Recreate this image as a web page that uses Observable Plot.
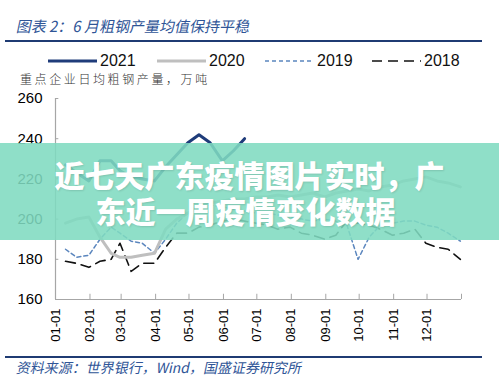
<!DOCTYPE html>
<html>
<head>
<meta charset="utf-8">
<script src="https://cdn.jsdelivr.net/npm/d3@7"></script>
<script src="https://cdn.jsdelivr.net/npm/@observablehq/plot@0.6"></script>
<style>
  html, body { margin: 0; padding: 0; background: #fff; }
  #wrap { position: relative; width: 499px; height: 384px; overflow: hidden; font-family: "Liberation Sans", Arial, sans-serif; }
  #chart { position: absolute; left: 0; top: 0; }
  .abs { position: absolute; }
  #title { left: 15px; top: 17px; font-family: "Noto Sans CJK SC", sans-serif; font-size: 15px; line-height: 18px; color: #2F5597; transform: skewX(-12deg); transform-origin: left bottom; white-space: nowrap; }
  .rule { left: 5px; width: 477px; height: 2px; background: #1F3B73; }
  #ylabel { left: 20px; top: 72px; font-family: "Noto Sans CJK SC", sans-serif; font-weight: 300; font-size: 12px; line-height: 13px; letter-spacing: 2.6px; color: #333; white-space: nowrap; }
  #source { left: 15px; top: 359px; font-family: "Noto Sans CJK SC", sans-serif; font-size: 14px; line-height: 17px; color: #2F5597; transform: skewX(-12deg); transform-origin: left bottom; white-space: nowrap; }
  #banner { left: 0; top: 143px; width: 499px; height: 97px; background: rgba(128, 219, 192, 0.88); }
  #banner div { font-family: "Noto Sans CJK SC", sans-serif; font-weight: 900; font-size: 30px; line-height: 36px; color: #fff; text-align: center; text-shadow: 1px 1px 2px rgba(0,0,0,0.12); white-space: nowrap; }
  #legend { left: 0; top: 50px; }
</style>
</head>
<body>
<div id="wrap">
  <div id="chart"></div>
  <div id="title" class="abs">图表 2：6 月粗钢产量均值保持平稳</div>
  <div class="abs rule" style="top:40px"></div>
  <svg id="legend" class="abs" width="499" height="20"></svg>
  <div id="ylabel" class="abs">重点企业日均粗钢产量，万吨</div>
  <div class="abs rule" style="top:356px"></div>
  <div id="source" class="abs">资料来源：世界银行，Wind，国盛证券研究所</div>
  <div id="banner" class="abs">
    <div style="padding-top:13px">近七天广东疫情图片实时，广</div>
    <div style="padding-right:8px">东近一周疫情变化数据</div>
  </div>
</div>
<script>
// ---- data ----
const dekads = ["01-10","01-20","01-31","02-10","02-20","02-28","03-10","03-20","03-31",
  "04-10","04-20","04-30","05-10","05-20","05-31","06-10","06-20","06-30",
  "07-10","07-20","07-31","08-10","08-20","08-31","09-10","09-20","09-30",
  "10-10","10-20","10-31","11-10","11-20","11-30","12-10","12-20","12-31"];
const v2021 = [227,223,219,229,229,224,221,220,219,226,232,238,242,238,229,234,240];
const v2020 = [198,200,201,191,183,181,181,182,183,195,200,203,206,208,209,210,210,211,
  211,212,211,212,213,211,213,214,215,214,216,217,219,220,221,219,218,216];
const v2019 = [185,181,182,190,196,193,189,188,183,190,198,203,206,207,206,205,204,203,
  203,202,201,200,199,200,199,197,180,191,197,198,199,199,197,196,193,189];
const v2018 = [179,178,176,179,180,188,174,178,178,186,193,193,196,197,199,200,199,198,
  197,195,196,193,192,190,192,199,198,197,195,192,193,195,188,186,185,180];
const seriesNames = ["2021","2020","2019","2018"];
const monthLabels = ["01-01","02-01","03-01","04-01","05-01","06-01","07-01","08-01","09-01","10-01","11-01","12-01"];
const yTicks = [160,180,200,220,240,260];

// ---- styles ----
const styles = {
  "2021": {stroke: "#1F3C7A", width: 3, dash: null},
  "2020": {stroke: "#BFBFBF", width: 3, dash: null},
  "2019": {stroke: "#5B86BE", width: 1.5, dash: "4,3"},
  "2018": {stroke: "#111111", width: 1.6, dash: "10,6"}
};

const parse = s => new Date(Date.UTC(2021, +s.slice(0,2) - 1, +s.slice(3,5)));
const valuesBy = {"2021": v2021, "2020": v2020, "2019": v2019, "2018": v2018};
const rows = [];
for (const name of seriesNames) {
  valuesBy[name].forEach((v, i) => rows.push({series: name, date: parse(dekads[i]), value: v}));
}
const monthTicks = monthLabels.map(parse);
const allTicks = [...monthTicks, new Date(Date.UTC(2022,0,1))];
const x0 = new Date(Date.UTC(2021,0,1));
const x0b = new Date(Date.UTC(2021,0,4));

const lineMarks = seriesNames.slice().reverse().map(name =>
  Plot.line(rows.filter(d => d.series === name), {
    x: "date", y: "value",
    stroke: styles[name].stroke, strokeWidth: styles[name].width,
    strokeDasharray: styles[name].dash, curve: "linear"
  })
);

const chart = Plot.plot({
  width: 499, height: 384,
  marginTop: 98, marginBottom: 85, marginLeft: 55, marginRight: 38,
  style: {fontFamily: "'Liberation Sans', Arial, sans-serif", background: "transparent", color: "#000"},
  x: {type: "utc", domain: [x0, new Date(Date.UTC(2022,0,1))]},
  y: {domain: [160, 260]},
  marks: [
    Plot.ruleY([160], {stroke: "#A6A6A6", strokeWidth: 1.2}),
    Plot.ruleX([x0], {y1: 160, y2: 260, stroke: "#A6A6A6", strokeWidth: 1.2}),
    Plot.ruleX(allTicks, {x: d => d, y1: 160, y2: 162.6, stroke: "#A6A6A6"}),
    Plot.ruleY(yTicks, {y: d => d, x1: x0, x2: x0b, stroke: "#A6A6A6"}),
    Plot.axisY({ticks: yTicks, tickSize: 0, tickPadding: 13, label: null, fontSize: 15}),
    Plot.axisX({ticks: monthTicks, tickFormat: d3.utcFormat("%m-%d"), tickSize: 0, tickPadding: 9, tickRotate: -90, label: null, fontSize: 13}),
    ...lineMarks
  ]
});
document.getElementById("chart").appendChild(chart);

// ---- legend ----
const leg = d3.select("#legend");
const legPos = {"2021": 48, "2020": 157, "2019": 265, "2018": 372};
for (const name of seriesNames) {
  const s = styles[name];
  const x = legPos[name];
  leg.append("line").attr("x1", x).attr("x2", x + 49).attr("y1", 11).attr("y2", 11)
    .attr("stroke", s.stroke).attr("stroke-width", s.width)
    .attr("stroke-dasharray", s.dash);
  leg.append("text").attr("x", x + 52).attr("y", 16)
    .attr("font-family", "'Liberation Sans', Arial, sans-serif").attr("font-size", 16)
    .attr("fill", "#111").text(name);
}
</script>
</body>
</html>
